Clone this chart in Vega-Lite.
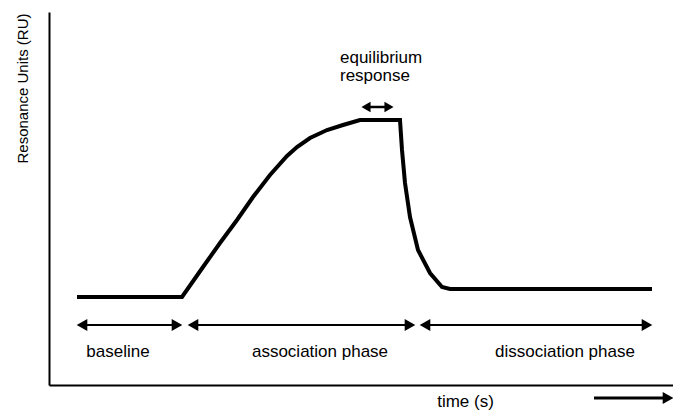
{
  "$schema": "https://vega.github.io/schema/vega-lite/v6.json",
  "width": 624,
  "height": 373,
  "autosize": "none",
  "padding": {"left": 49, "top": 12, "right": 0, "bottom": 27},
  "background": "white",
  "config": {"view": {"stroke": null}, "font": "Liberation Sans"},
  "datasets": {
    "curve": [
      {"t": 28, "ru": 88}, {"t": 133, "ru": 88}, {"t": 154, "ru": 118}, {"t": 171, "ru": 142},
      {"t": 188, "ru": 165}, {"t": 204, "ru": 188}, {"t": 221, "ru": 210}, {"t": 238, "ru": 229},
      {"t": 248, "ru": 238}, {"t": 261, "ru": 247}, {"t": 278, "ru": 255}, {"t": 294, "ru": 260},
      {"t": 311, "ru": 265}, {"t": 351, "ru": 265}, {"t": 353, "ru": 235}, {"t": 356, "ru": 202},
      {"t": 361, "ru": 168}, {"t": 369, "ru": 135}, {"t": 381, "ru": 112}, {"t": 393, "ru": 98},
      {"t": 401, "ru": 96}, {"t": 603, "ru": 96}
    ],
    "shafts": [
      {"t1": 33, "t2": 128, "ru": 60, "w": 2},
      {"t1": 144, "t2": 361, "ru": 60, "w": 2},
      {"t1": 376, "t2": 598, "ru": 60, "w": 2},
      {"t1": 317, "t2": 340, "ru": 278, "w": 2.5},
      {"t1": 545, "t2": 619, "ru": -13, "w": 3}
    ],
    "heads": [
      {"t": 33, "ru": 60, "dir": "L", "s": 150},
      {"t": 128, "ru": 60, "dir": "R", "s": 150},
      {"t": 144, "ru": 60, "dir": "L", "s": 150},
      {"t": 361, "ru": 60, "dir": "R", "s": 150},
      {"t": 376, "ru": 60, "dir": "L", "s": 150},
      {"t": 598, "ru": 60, "dir": "R", "s": 150},
      {"t": 317, "ru": 278, "dir": "L", "s": 110},
      {"t": 340, "ru": 278, "dir": "R", "s": 110},
      {"t": 619, "ru": -13, "dir": "R", "s": 150}
    ],
    "phaseLabels": [
      {"t": 69, "ru": 28, "text": "baseline"},
      {"t": 271, "ru": 28, "text": "association phase"},
      {"t": 516, "ru": 28, "text": "dissociation phase"}
    ],
    "eqLabels": [
      {"t": 291, "ru": 322, "text": "equilibrium"},
      {"t": 291, "ru": 304, "text": "response"}
    ]
  },
  "layer": [
    {
      "data": {"name": "curve"},
      "mark": {"type": "line", "color": "black", "strokeWidth": 4, "strokeJoin": "miter", "strokeCap": "butt"},
      "encoding": {
        "x": {"field": "t", "type": "quantitative", "scale": {"domain": [0, 624], "nice": false, "zero": false},
          "axis": {"title": "time (s)", "labels": false, "ticks": false, "grid": false, "domainColor": "black", "domainWidth": 2,
            "titleFont": "Liberation Sans", "titleFontSize": 17, "titleFontWeight": "normal", "titleColor": "black",
            "titleX": 416, "titleY": 21, "titleBaseline": "alphabetic", "titleAlign": "center"}},
        "y": {"field": "ru", "type": "quantitative", "scale": {"domain": [0, 373], "nice": false, "zero": false},
          "axis": {"title": "Resonance Units (RU)", "labels": false, "ticks": false, "grid": false, "domainColor": "black", "domainWidth": 2,
            "titleFont": "Liberation Sans", "titleFontSize": 15, "titleFontWeight": "normal", "titleColor": "black",
            "titleX": -22, "titleY": 76, "titleAngle": -90, "titleBaseline": "alphabetic", "titleAlign": "center"}},
        "order": {"field": "t", "type": "quantitative"}
      }
    },
    {
      "data": {"name": "shafts"},
      "mark": {"type": "rule", "color": "black"},
      "encoding": {
        "x": {"field": "t1", "type": "quantitative"},
        "x2": {"field": "t2"},
        "y": {"field": "ru", "type": "quantitative"},
        "strokeWidth": {"field": "w", "type": "quantitative", "scale": null}
      }
    },
    {
      "data": {"name": "heads"},
      "mark": {"type": "point", "filled": true, "color": "black", "opacity": 1, "strokeWidth": 0},
      "encoding": {
        "x": {"field": "t", "type": "quantitative"},
        "y": {"field": "ru", "type": "quantitative"},
        "shape": {"field": "dir", "type": "nominal", "scale": {"domain": ["L", "R"], "range": ["triangle-left", "triangle-right"]}, "legend": null},
        "size": {"field": "s", "type": "quantitative", "scale": null}
      }
    },
    {
      "data": {"name": "phaseLabels"},
      "mark": {"type": "text", "color": "black", "fontSize": 17, "font": "Liberation Sans", "baseline": "alphabetic", "align": "center"},
      "encoding": {
        "x": {"field": "t", "type": "quantitative"},
        "y": {"field": "ru", "type": "quantitative"},
        "text": {"field": "text"}
      }
    },
    {
      "data": {"name": "eqLabels"},
      "mark": {"type": "text", "color": "black", "fontSize": 17, "font": "Liberation Sans", "baseline": "alphabetic", "align": "left"},
      "encoding": {
        "x": {"field": "t", "type": "quantitative"},
        "y": {"field": "ru", "type": "quantitative"},
        "text": {"field": "text"}
      }
    }
  ]
}
